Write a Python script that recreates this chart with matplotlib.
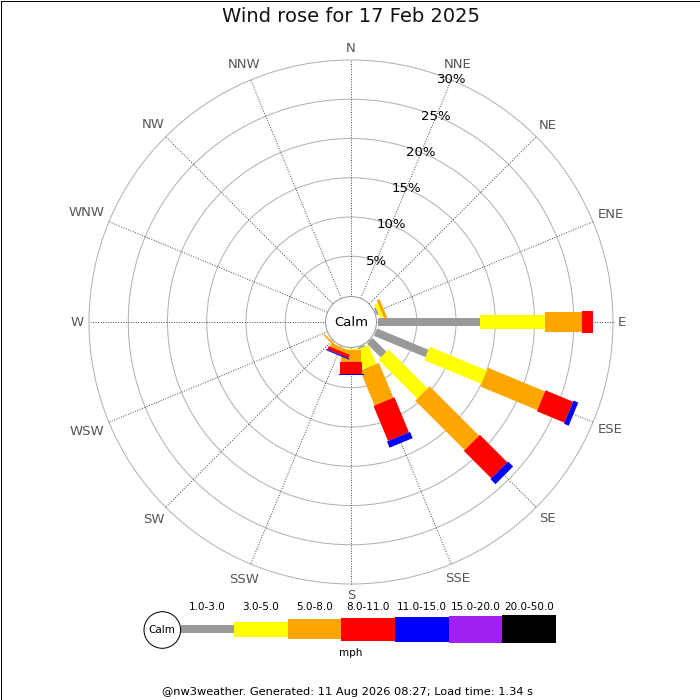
import numpy as np
import matplotlib
matplotlib.use("Agg")
import matplotlib.pyplot as plt
from matplotlib.patches import Polygon, Circle, Rectangle

# ---------------- data ----------------
title = "Wind rose for 17 Feb 2025"
directions = ["N", "NNE", "NE", "ENE", "E", "ESE", "SE", "SSE",
              "S", "SSW", "SW", "WSW", "W", "WNW", "NW", "NNW"]
speed_bins = ["1.0-3.0", "3.0-5.0", "5.0-8.0", "8.0-11.0",
              "11.0-15.0", "15.0-20.0", "20.0-50.0"]
bin_colors = ["#999999", "#ffff00", "#ffa500", "#ff0000",
              "#0000ff", "#a020f0", "#000000"]
# percentage of time per direction per speed bin (1-3, 3-5, 5-8, 8-11, 11-15, 15-20, 20-50)
freq_N   = [0, 0, 0, 0, 0, 0, 0]
freq_NNE = [0, 0, 0, 0, 0, 0, 0]
freq_NE  = [0, 0, 0, 0, 0, 0, 0]
freq_ENE = [0.25, 0.45, 0.4, 0, 0, 0, 0]
freq_E   = [13.0, 8.4, 4.65, 1.45, 0, 0, 0]
freq_ESE = [7.1, 7.9, 7.85, 3.8, 0.65, 0, 0]
freq_SE  = [2.5, 7.0, 8.9, 4.95, 0.9, 0, 0]
freq_SSE = [0.2, 2.6, 4.8, 4.85, 0.85, 0, 0]
freq_S   = [0.05, 0.1, 1.6, 1.45, 0.15, 0, 0]
freq_SSW = [0.05, 0.05, 0.45, 0.45, 0.15, 0, 0]
freq_SW  = [0.05, 0.05, 0.2, 0, 0, 0, 0]
freq_WSW = [0, 0, 0, 0, 0, 0, 0]
freq_W   = [0, 0, 0, 0, 0, 0, 0]
freq_WNW = [0, 0, 0, 0, 0, 0, 0]
freq_NW  = [0, 0, 0, 0, 0, 0, 0]
freq_NNW = [0, 0, 0, 0, 0, 0, 0]
ring_values = [5, 10, 15, 20, 25, 30]
ring_labels = ["5%", "10%", "15%", "20%", "25%", "30%"]
unit_label = "mph"
footer = "@nw3weather. Generated: 11 Aug 2026 08:27; Load time: 1.34 s"

freqs = [freq_N, freq_NNE, freq_NE, freq_ENE, freq_E, freq_ESE, freq_SE, freq_SSE,
         freq_S, freq_SSW, freq_SW, freq_WSW, freq_W, freq_WNW, freq_NW, freq_NNW]

# ---------------- style ----------------
W = H = 700
CX, CY = 351, 322          # rose centre in pixels
PX_PER_PCT = 7.85
ZERO_R = 26.5 / PX_PER_PCT  # radius (in % units) where 0% sits
CALM_R = 25.5 / PX_PER_PCT
bar_widths_px = [8, 14.5, 20.3, 22.7, 25, 27, 28.3]
FS = 9.5
LW1 = 0.72

fig = plt.figure(figsize=(7, 7), dpi=100)
fig.patch.set_facecolor("white")

# background axes in pixel units (title, legend, footer, border)
bg = fig.add_axes([0, 0, 1, 1])
bg.set_xlim(0, W)
bg.set_ylim(H, 0)
bg.axis("off")

# rose axes in percent units
ax = fig.add_axes([0, 0, 1, 1])
ax.set_xlim(-CX / PX_PER_PCT, (W - CX) / PX_PER_PCT)
ax.set_ylim((CY - H) / PX_PER_PCT, CY / PX_PER_PCT)
ax.set_aspect("equal")
ax.axis("off")
ax.patch.set_alpha(0)

outer = ZERO_R + max(ring_values)

# rings
for rv in ring_values:
    ax.add_patch(Circle((0, 0), ZERO_R + rv, fill=False, ec="#b0b0b0", lw=LW1, zorder=1))

# radial dotted lines
for i in range(len(directions)):
    th = np.deg2rad(i * 22.5)
    u = np.array([np.sin(th), np.cos(th)])
    p0, p1 = u * CALM_R, u * outer
    ax.plot([p0[0], p1[0]], [p0[1], p1[1]], color="#444444", lw=0.7,
            linestyle=(0, (1, 1.6)), zorder=1.5)

# bars
for i, fr in enumerate(freqs):
    th = np.deg2rad(i * 22.5)
    u = np.array([np.sin(th), np.cos(th)])
    pv = np.array([np.cos(th), -np.sin(th)])
    r0 = ZERO_R
    for b, v in enumerate(fr):
        if v <= 0:
            continue
        r1 = r0 + v
        hw = bar_widths_px[b] / PX_PER_PCT / 2
        pts = [u * r0 + pv * hw, u * r1 + pv * hw, u * r1 - pv * hw, u * r0 - pv * hw]
        ax.add_patch(Polygon(pts, closed=True, fc=bin_colors[b], ec="none", zorder=3 + b * 0.01))
        r0 = r1

# calm circle
ax.add_patch(Circle((0, 0), CALM_R, fc="white", ec="#999999", lw=LW1, zorder=5))
ax.text(0, 0, "Calm", ha="center", va="center", fontsize=FS, color="black", zorder=6)

# ring labels along NNE
th_l = np.deg2rad(22.5)
for rv, lab in zip(ring_values, ring_labels):
    r = ZERO_R + rv
    ax.text(r * np.sin(th_l), r * np.cos(th_l), lab, ha="center", va="center",
            fontsize=FS, color="black", zorder=7)

# direction labels
fig.canvas.draw()
renderer = fig.canvas.get_renderer()
for i, d in enumerate(directions):
    th = np.deg2rad(i * 22.5)
    t = ax.text(0, 0, d, ha="center", va="center", fontsize=FS, color="#555555", zorder=7)
    bb = t.get_window_extent(renderer)
    ext = abs(np.sin(th)) * bb.width / 2 + abs(np.cos(th)) * bb.height / 2
    r = (267 + ext) / PX_PER_PCT
    t.set_position((r * np.sin(th), r * np.cos(th)))

# title
bg.text(351, 17, title, ha="center", va="center", fontsize=14, color="#111111")

# legend (pixel units on bg axes)
LX0, LBW, LCY = 180.5, 53.6, 629.3
for b, (lab, col) in enumerate(zip(speed_bins, bin_colors)):
    h = bar_widths_px[b]
    x0 = LX0 + b * LBW
    bg.add_patch(Rectangle((x0, LCY - h / 2), LBW, h, fc=col, ec="none", zorder=3))
    bg.text(x0 + LBW / 2, 606.7, lab, ha="center", va="center", fontsize=7.5, color="black")
bg.add_patch(Circle((162.3, 630), 18.3, fc="white", ec="black", lw=LW1, zorder=4))
bg.text(162.3, 630, "Calm", ha="center", va="center", fontsize=7.5, color="black", zorder=5)
bg.text(351, 653.5, unit_label, ha="center", va="center", fontsize=7.5, color="black")

# footer
bg.text(348, 692, footer, ha="center", va="center", fontsize=8.2, color="black")

# border
bg.add_patch(Rectangle((0.5, 0.5), W - 1, H - 1, fill=False, ec="black", lw=LW1, zorder=10))

fig.savefig("out.png", dpi=100)
